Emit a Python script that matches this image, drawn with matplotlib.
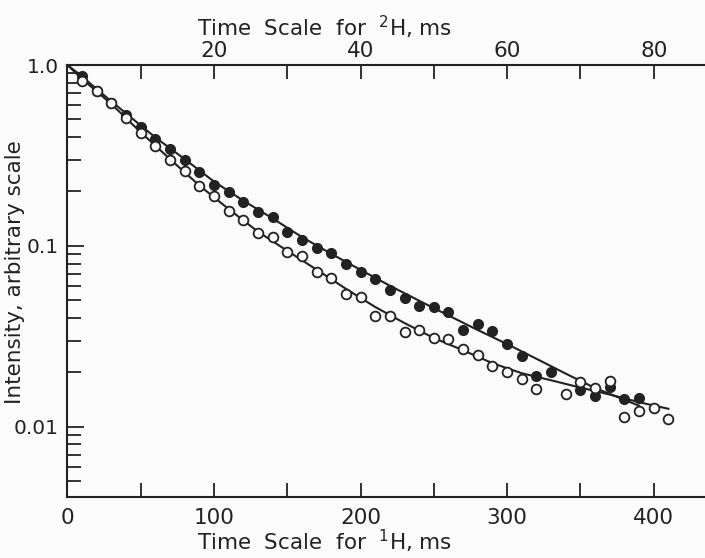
import numpy as np
import matplotlib.pyplot as plt
from matplotlib.ticker import FixedLocator, LogLocator, NullFormatter

# Filled dots (1H time scale, ms) and intensity
filled_t = [10, 20, 30, 40, 50, 60, 70, 80, 90, 100, 110, 120, 130, 140, 150,
            160, 170, 180, 190, 200, 210, 220, 230, 240, 250, 260, 270, 280,
            290, 300, 310, 320, 330, 350, 360, 370, 380, 390]
filled_i = [0.870, 0.721, 0.617, 0.529, 0.456, 0.390, 0.342, 0.299, 0.257,
            0.218, 0.199, 0.175, 0.154, 0.144, 0.119, 0.108, 0.0971, 0.0918,
            0.0792, 0.0716, 0.0658, 0.0571, 0.0518, 0.0466, 0.0462, 0.0434,
            0.0342, 0.0371, 0.0340, 0.0289, 0.0247, 0.0192, 0.0200, 0.0160,
            0.0149, 0.0166, 0.0142, 0.0145]

# Open circles
open_t = [10, 20, 30, 40, 50, 60, 70, 80, 90, 100, 110, 120, 130, 140, 150,
          160, 170, 180, 190, 200, 210, 220, 230, 240, 250, 260, 270, 280,
          290, 300, 310, 320, 340, 350, 360, 370, 380, 390, 400, 410]
open_i = [0.819, 0.718, 0.614, 0.511, 0.420, 0.358, 0.299, 0.261, 0.214,
          0.189, 0.156, 0.140, 0.118, 0.112, 0.0923, 0.0881, 0.0716, 0.0663,
          0.0543, 0.0525, 0.0412, 0.0408, 0.0335, 0.0344, 0.0310, 0.0306,
          0.0269, 0.0250, 0.0218, 0.0201, 0.0184, 0.0161, 0.0152, 0.0178,
          0.0165, 0.0180, 0.0114, 0.0123, 0.0128, 0.0110]

# fitted curves
fit_filled_t = [0, 10, 20, 40, 60, 80, 100, 120, 140, 160, 180, 200, 220, 240,
                260, 280, 300, 320, 340, 360, 390]
fit_filled_i = [1.0, 0.865, 0.735, 0.540, 0.398, 0.302, 0.227, 0.178, 0.142,
                0.112, 0.0905, 0.0738, 0.0603, 0.0498, 0.0413, 0.0343, 0.0287,
                0.0238, 0.0197, 0.0164, 0.0131]

fit_open_t = [0, 10, 30, 50, 70, 90, 110, 130, 150, 170, 190, 210, 230, 250,
              270, 290, 310, 330, 350, 370, 390, 410]
fit_open_i = [1.0, 0.837, 0.609, 0.425, 0.302, 0.216, 0.160, 0.120, 0.094,
              0.074, 0.058, 0.046, 0.0375, 0.031, 0.0265, 0.0225, 0.0198,
              0.0181, 0.0165, 0.0151, 0.0137, 0.0126]

ink = '#222222'
paper = '#fbfbfb'
fs = 15.5

fig = plt.figure(figsize=(7.05, 5.58), dpi=100)
fig.patch.set_facecolor(paper)
ax = fig.add_axes([67.4 / 705, 1 - 497 / 558, 1 - 67.4 / 705, (497 - 65) / 558])
ax.set_facecolor(paper)

ax.plot(fit_filled_t, fit_filled_i, color=ink, lw=1.5)
ax.plot(fit_open_t, fit_open_i, color=ink, lw=1.5)
ax.plot(filled_t, filled_i, 'o', color=ink, ms=7, mec=ink)
ax.plot(open_t, open_i, 'o', mfc=paper, mec=ink, mew=1.3, ms=7)

ax.set_yscale('log')
ax.set_xlim(0, 435)
ax.set_ylim(0.0041, 1.0)

ax.spines['right'].set_visible(False)
for s in ['left', 'bottom', 'top']:
    ax.spines[s].set_linewidth(1.5)
    ax.spines[s].set_color(ink)

ax.xaxis.set_major_locator(FixedLocator([0, 100, 200, 300, 400]))
ax.xaxis.set_minor_locator(FixedLocator([50, 150, 250, 350]))
ax.yaxis.set_major_locator(FixedLocator([0.01, 0.1, 1.0]))
ax.yaxis.set_major_formatter(plt.FixedFormatter(['0.01', '0.1', '1.0']))
ax.yaxis.set_minor_locator(LogLocator(base=10, subs=np.arange(2, 10), numticks=20))
ax.yaxis.set_minor_formatter(NullFormatter())
ax.tick_params(which='both', direction='in', color=ink, width=1.3,
               labelsize=fs, labelcolor=ink, right=False, top=False)
ax.tick_params(axis='x', which='both', length=10, pad=8)
ax.tick_params(axis='y', which='major', length=12, pad=6, labelsize=14.5)
ax.tick_params(axis='y', which='minor', length=10)

ax.set_xlabel(r'Time  Scale  for  $^{\mathregular{1}}$H, ms', fontsize=fs,
              color=ink, x=0.403, labelpad=0)
ax.set_ylabel('Intensity, arbitrary scale', fontsize=fs, color=ink)
# label tucked in next to the tick labels, as in the scan
ax.yaxis.set_label_coords(-0.066, 0.52)

# 2H time scale on top (5x faster)
top = ax.secondary_xaxis('top', functions=(lambda x: x / 5, lambda x: x * 5))
top.xaxis.set_major_locator(FixedLocator([20, 40, 60, 80]))
top.xaxis.set_minor_locator(FixedLocator([10, 30, 50, 70]))
top.tick_params(which='both', direction='in', length=10, width=1.3, color=ink,
                labelsize=fs, labelcolor=ink, pad=3)
top.spines['top'].set_visible(False)
top.set_xlabel(r'Time  Scale  for  $^{\mathregular{2}}$H, ms', fontsize=fs,
               color=ink, x=0.403, labelpad=3)

fig.savefig('out.png', dpi=100, facecolor=fig.get_facecolor())
